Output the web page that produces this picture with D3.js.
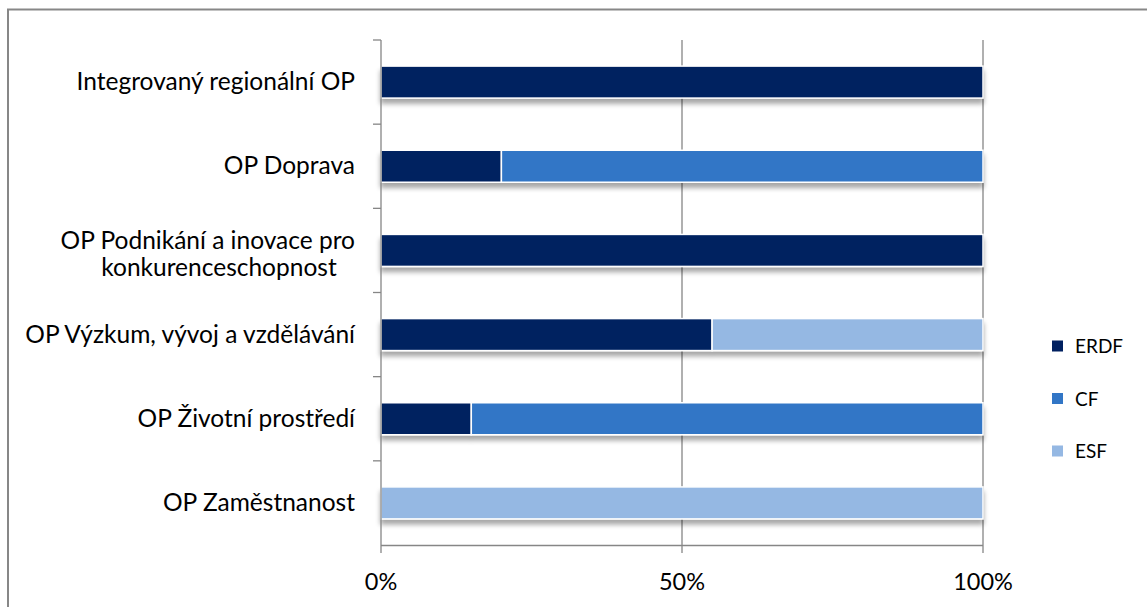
<!DOCTYPE html>
<html><head><meta charset="utf-8">
<script src="https://cdn.jsdelivr.net/npm/d3@7"></script>
<style>body{margin:0;background:#fff}svg{display:block}</style>
</head><body>
<script>
const categories = ["Integrovaný regionální OP","OP Doprava","OP Podnikání a inovace pro konkurenceschopnost","OP Výzkum, vývoj a vzdělávání","OP Životní prostředí","OP Zaměstnanost"];
const labelLines = [["Integrovaný regionální OP"],["OP Doprava"],["OP Podnikání a inovace pro","konkurenceschopnost"],["OP Výzkum, vývoj a vzdělávání"],["OP Životní prostředí"],["OP Zaměstnanost"]];
const seriesNames = ["ERDF","CF","ESF"];
const ERDF = [1.00,0.20,1.00,0.55,0.15,0.00];
const CF   = [0.00,0.80,0.00,0.00,0.85,0.00];
const ESF  = [0.00,0.00,0.00,0.45,0.00,1.00];
const tickValues = [0,0.5,1];
const tickLabels = ["0%","50%","100%"];
const colors = ["#002060","#3276C6","#95B8E3"];

const W=1147,H=607;
const svg=d3.select("body").append("svg").attr("width",W).attr("height",H);
const font="Lato, 'Open Sans', sans-serif";
const fs=24.5;

const defs=svg.append("defs");
const f=defs.append("filter").attr("id","sh").attr("x","-5%").attr("y","-20%").attr("width","110%").attr("height","160%");
f.append("feGaussianBlur").attr("in","SourceAlpha").attr("stdDeviation",2.5).attr("result","b");
f.append("feOffset").attr("in","b").attr("dx",0).attr("dy",5).attr("result","o");
f.append("feComponentTransfer").attr("in","o").attr("result","o2").append("feFuncA").attr("type","linear").attr("slope",0.35);
const m=f.append("feMerge");m.append("feMergeNode").attr("in","o2");m.append("feMergeNode").attr("in","SourceGraphic");

// border
svg.append("path").attr("d",`M8,${H} L8,9.5 L${W+5},9.5`).attr("fill","none").attr("stroke","#878787").attr("stroke-width",2);

const x=d3.scaleLinear().domain([0,1]).range([381,983]);
const y=d3.scaleBand().domain(categories).range([40,545]).paddingInner(0.62).paddingOuter(0.31);

// gridlines
svg.append("g").selectAll("line").data(tickValues.slice(1)).join("line")
 .attr("x1",d=>x(d)).attr("x2",d=>x(d)).attr("y1",40).attr("y2",553)
 .attr("stroke","#868686").attr("stroke-width",1.3);

// bars
const stack=d3.stack().keys(seriesNames)(categories.map((c,i)=>({cat:c,ERDF:ERDF[i],CF:CF[i],ESF:ESF[i]})));
const gBars=svg.append("g").attr("filter","url(#sh)");
stack.forEach((s,si)=>{
  gBars.selectAll(null).data(s.filter(d=>d[1]-d[0]>0)).join("rect")
   .attr("x",d=>x(d[0])).attr("width",d=>x(d[1])-x(d[0]))
   .attr("y",d=>y(d.data.cat)).attr("height",y.bandwidth())
   .attr("fill",colors[si]).attr("stroke","#fff").attr("stroke-width",1.5);
});

// y axis
const yb=[40];categories.forEach((c,i)=>yb.push(40+(505/6)*(i+1)));
svg.append("line").attr("x1",381).attr("x2",381).attr("y1",40).attr("y2",553).attr("stroke","#868686").attr("stroke-width",1.3);
svg.append("g").selectAll("line").data(yb.slice(0,6)).join("line")
 .attr("x1",373).attr("x2",381).attr("y1",d=>d).attr("y2",d=>d).attr("stroke","#868686").attr("stroke-width",1.3);
// x axis
svg.append("line").attr("x1",381).attr("x2",983).attr("y1",545.5).attr("y2",545.5).attr("stroke","#868686").attr("stroke-width",1.3);

// x tick labels
svg.append("g").selectAll("text").data(tickValues).join("text")
 .attr("x",d=>x(d)).attr("y",590).attr("text-anchor","middle")
 .attr("font-family",font).attr("font-size",fs-1).attr("fill","#000")
 .text((d,i)=>tickLabels[i]);

// category labels
categories.forEach((c,i)=>{
  const cy=y(c)+y.bandwidth()/2;
  const lines=labelLines[i];
  if(lines.length===1){
    svg.append("text").attr("x",355).attr("y",cy+8).attr("text-anchor","end")
     .attr("font-family",font).attr("font-size",fs).text(lines[0]);
  } else {
    const t=svg.append("text").attr("font-family",font).attr("font-size",fs);
    t.append("tspan").attr("x",355).attr("y",cy-1).attr("text-anchor","end").text(lines[0]);
    t.append("tspan").attr("x",219).attr("y",cy+26).attr("text-anchor","middle").text(lines[1]);
  }
});

// legend
const lg=svg.append("g");
seriesNames.forEach((n,i)=>{
  const ly=346+i*52.5;
  lg.append("rect").attr("x",1052).attr("y",ly-5.5).attr("width",11).attr("height",11).attr("fill",colors[i]);
  lg.append("text").attr("x",1075).attr("y",ly+7).attr("font-family",font).attr("font-size",19).text(n);
});
</script>
</body></html>
